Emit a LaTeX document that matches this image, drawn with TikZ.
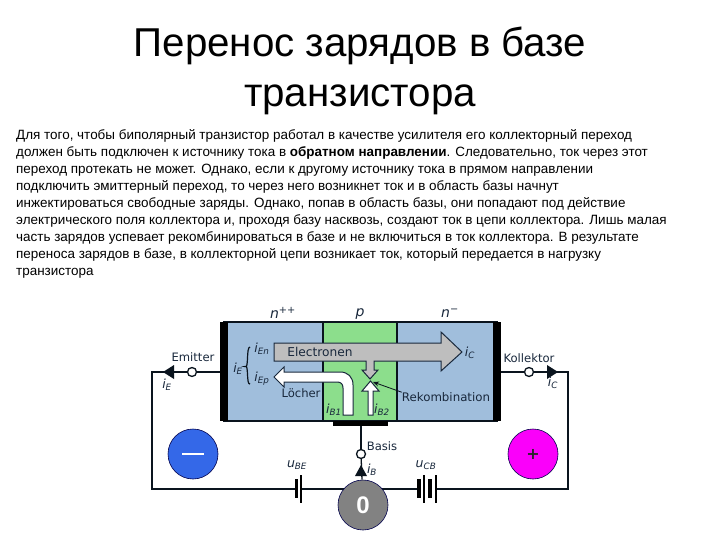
\documentclass[tikz,border=0pt]{standalone}
\usepackage{fontspec}
\setmainfont{Liberation Sans}
\newfontfamily\lab{DejaVu Sans}
\usetikzlibrary{arrows.meta}
\definecolor{bluereg}{RGB}{160,190,220}
\definecolor{greenreg}{RGB}{140,222,140}
\definecolor{greyarr}{RGB}{190,190,190}
\definecolor{wire}{RGB}{10,20,30}
\definecolor{labc}{RGB}{25,40,60}
\definecolor{srcblue}{RGB}{52,104,232}
\definecolor{srcmag}{RGB}{250,0,250}
\definecolor{srcgrey}{RGB}{130,130,130}
\tikzset{
 region/.style={draw=wire,line width=1.1pt,inner sep=0},
 contact/.style={fill=black,draw=none},
 wireline/.style={draw=wire,line width=1.3pt},
 term/.style={circle,draw=wire,line width=1.3pt,fill=white,minimum size=9pt,inner sep=0},
 source/.style={circle,draw=black!70!blue,line width=.6pt,minimum size=50pt,inner sep=0,text=white,font=\bfseries\fontsize{24}{24}\selectfont},
 lbl/.style={inner sep=0,text=labc,font=\lab\fontsize{11.6}{13}\selectfont},
 cur/.style={inner sep=0,text=labc,font=\lab\itshape\fontsize{12.5}{14}\selectfont},
 plate/.style={draw=none,fill=black},
}
\begin{document}
\begin{tikzpicture}[x=1pt,y=-1pt]
\useasboundingbox[fill=white] (0,0) rectangle (720,540);
% title
\node[inner sep=0,align=center,font=\fontsize{40.3}{50}\selectfont] (title) at (360,71) {Перенос зарядов в базе\\транзистора};
% body
\node[inner sep=0,anchor=north west,align=left,font=\fontsize{13.45}{17.05}\selectfont] (body) at (16,129) {Для того, чтобы биполярный транзистор работал в качестве усилителя его коллекторный переход\\
должен быть подключен к источнику тока в \textbf{обратном направлении}. Следовательно, ток через этот\\
переход протекать не может. Однако, если к другому источнику тока в прямом направлении\\
подключить эмиттерный переход, то через него возникнет ток и в область базы начнут\\
инжектироваться свободные заряды. Однако, попав в область базы, они попадают под действие\\
электрического поля коллектора и, проходя базу насквозь, создают ток в цепи коллектора. Лишь малая\\
часть зарядов успевает рекомбинироваться в базе и не включиться в ток коллектора. В результате\\
переноса зарядов в базе, в коллекторной цепи возникает ток, который передается в нагрузку\\
транзистора};
% regions
\draw[region,fill=bluereg] (224,322) rectangle (323,421);
\draw[region,fill=greenreg] (323,322) rectangle (397,421);
\draw[region,fill=bluereg] (397,322) rectangle (497,421);
\fill[contact] (220,322) rectangle (228,421);
\fill[contact] (493,322) rectangle (501,421);
\fill[contact] (333,421) rectangle (388,426);
\coordinate (em) at (220,372);
\coordinate (ko) at (501,372);
\coordinate (ba) at (361,426);
% terminals and sources
\node[term] (tE) at (192,372) {};
\node[term] (tC) at (529,372) {};
\node[term] (tB) at (361,454) {};
\coordinate (cL) at (152,372);
\coordinate (cR) at (568,372);
\coordinate (bL) at (152,489);
\coordinate (bR) at (568,489);
\node[source,fill=srcblue] (minus) at (193,454) {};
\node[source,fill=srcmag] (plus) at (533,454) {};
% wires
\draw[wireline] (em) -- (tE);
\draw[wireline] (ko) -- (tC);
\draw[wireline] (ba) -- (tB);
\draw[wireline] (tE) -- (cL) -- (bL) -- (bR) -- (cR) -- (tC);
\draw[fill=wire,draw=none] (163,372) -- (174,365) -- (174,379) -- cycle;
\draw[fill=wire,draw=none] (558,372) -- (547,365) -- (547,379) -- cycle;
\node[source,fill=srcgrey] (zero) at (363,505) {0};
\draw[wireline] (zero) -- (tB);
\draw[fill=wire,draw=none] (361,465) -- (355,476) -- (367,476) -- cycle;
\draw[line width=2.2pt,white] (182,454) -- (204,454);
\node[inner sep=0,text=black!85,font=\lab\bfseries\fontsize{16}{16}\selectfont] (pl) at (533,454) {+};
% batteries
\fill[white] (297,478) rectangle (300,500);
\fill[white] (418,478) rectangle (436,500);
\fill[plate] (294.5,479) rectangle (298,498);
\fill[plate] (299.5,475) rectangle (301.5,503);
\fill[plate] (417,479) rectangle (421,498);
\fill[plate] (423,475) rectangle (425,503);
\fill[plate] (428,479) rectangle (432,498);
\fill[plate] (435,475) rectangle (437,503);
% big arrows
\draw[line width=1pt,draw=labc,fill=greyarr] (274,343) -- (441,343) -- (441,332) -- (462,352) -- (441,371) -- (441,361) -- (374,361) -- (374,370) -- (378,370) -- (370,379) -- (362,370) -- (366,370) -- (366,361) -- (274,361) -- cycle;
\draw[line width=1pt,draw=labc,fill=white] (343,415) -- (343,388) .. controls (343,384) and (341,382) .. (337,382) -- (284,382) -- (284,387) -- (274,377) -- (284,367) -- (284,372) -- (340,372) .. controls (348,372) and (353,377) .. (353,385) -- (353,415) -- cycle;
\draw[line width=1pt,draw=labc,fill=white] (368,415) -- (368,391) -- (362,391) -- (370.5,381) -- (379,391) -- (373,391) -- (373,415) -- cycle;
\node[inner sep=0,text=labc,font=\lab\fontsize{12.2}{13}\selectfont] (el) at (320,352) {Electronen};
\node[lbl] (lo) at (301,393) {Löcher};
\node[lbl,font=\lab\fontsize{11.8}{13}\selectfont] (re) at (446,397) {Rekombination};
\draw[-{Stealth[length=6pt,width=5pt]},line width=.8pt,draw=wire] (re.north west) -- (373,382);
% labels
\node[lbl] (lE) at (193,357) {Emitter};
\node[lbl] (lK) at (529,358) {Kollektor};
\node[lbl] (lB) at (382,446) {Basis};
\node[cur,font=\lab\itshape\fontsize{14}{15}\selectfont] (nA) at (283,313) {n\textsuperscript{++}};
\node[cur,font=\lab\itshape\fontsize{14}{15}\selectfont] (nP) at (360,314) {p};
\node[cur,font=\lab\itshape\fontsize{14}{15}\selectfont] (nB) at (450,313) {n\textsuperscript{−}};
\node[cur] (iE) at (167,385) {i\textsubscript{\lab\itshape E}};
\node[cur] (iC) at (553,383) {i\textsubscript{\lab\itshape C}};
\node[cur] (iCi) at (470,353) {i\textsubscript{\lab\itshape C}};
\node[cur] (iEt) at (238,369) {i\textsubscript{\lab\itshape E}};
\node[cur] (iEn) at (262,349) {i\textsubscript{\lab\itshape En}};
\node[cur] (iEp) at (262,379) {i\textsubscript{\lab\itshape Ep}};
\node[cur] (iB1) at (334,410) {i\textsubscript{\lab\itshape B1}};
\node[cur] (iB2) at (382,410) {i\textsubscript{\lab\itshape B2}};
\node[cur] (iB) at (372,470) {i\textsubscript{\lab\itshape B}};
\node[cur] (uBE) at (297,465) {u\textsubscript{\lab\itshape BE}};
\node[cur] (uCB) at (426,465) {u\textsubscript{\lab\itshape CB}};
\draw[line width=1.2pt,draw=wire] (250,347) .. controls (246,347) and (249,370) .. (245,366.5) .. controls (249,363) and (246,385) .. (250,384);
\end{tikzpicture}
\end{document}
